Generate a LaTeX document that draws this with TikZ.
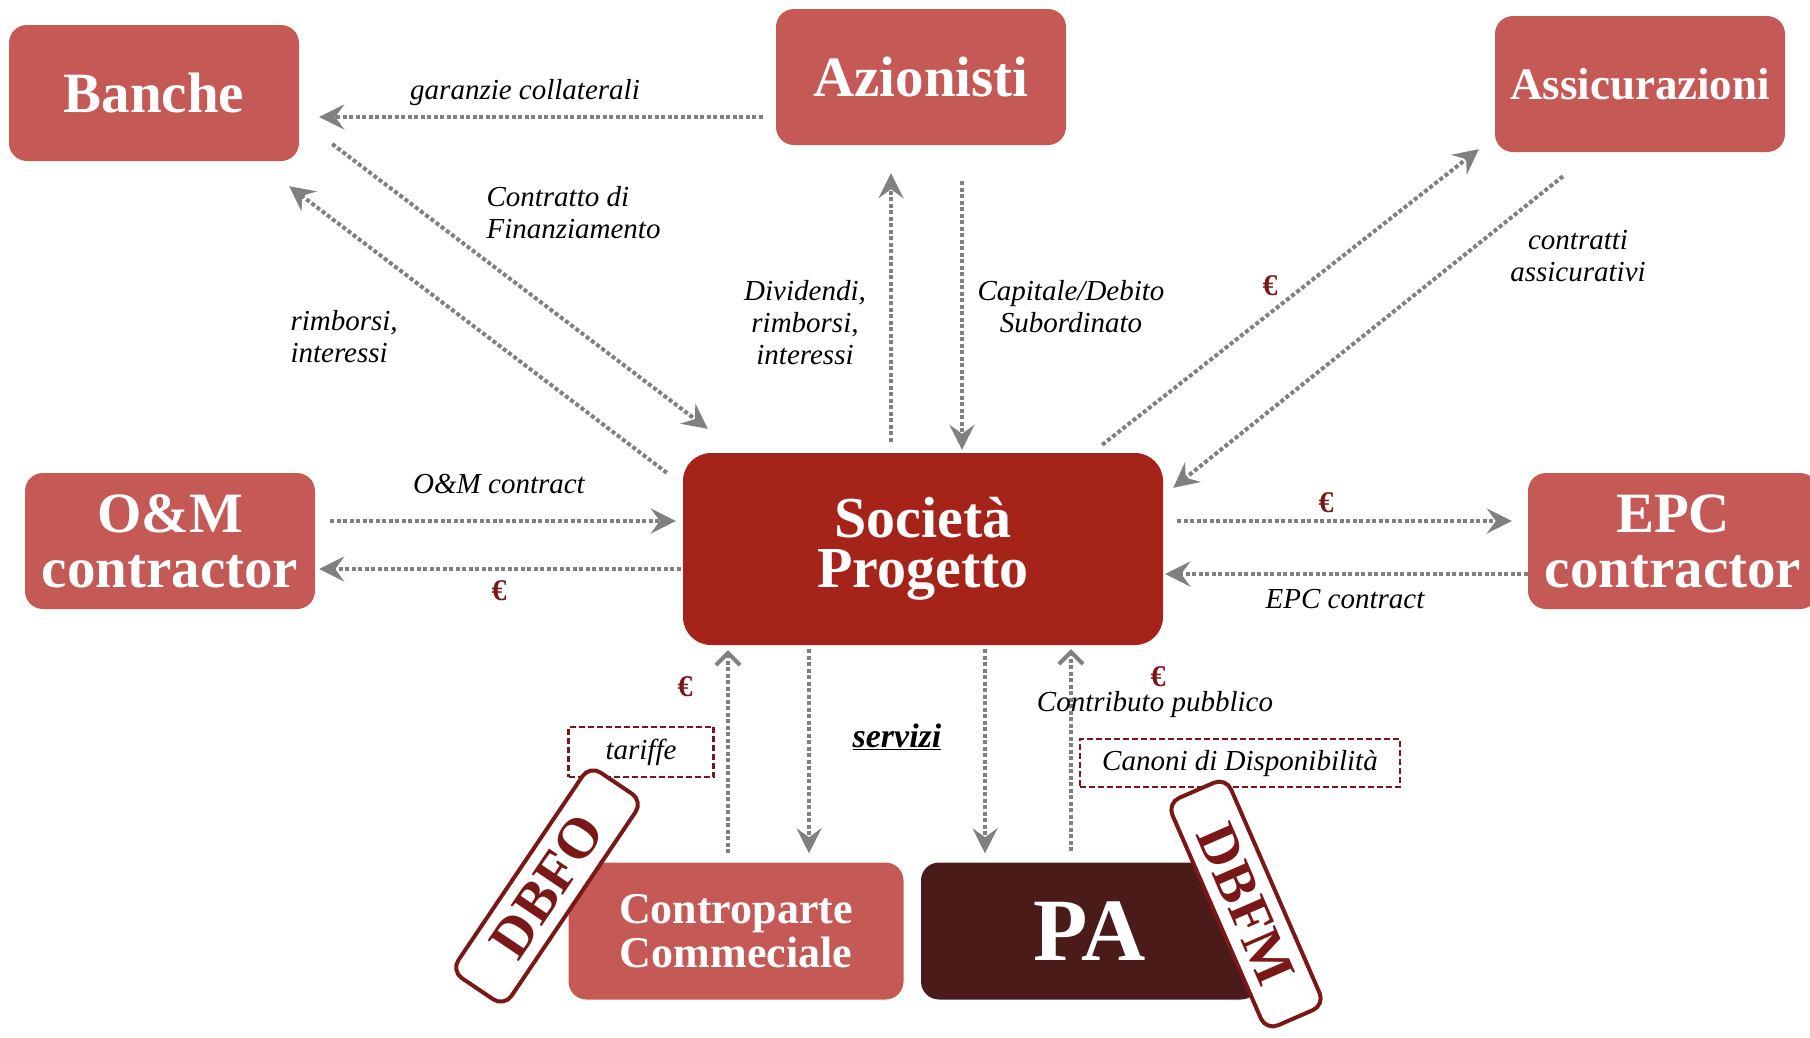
\documentclass[tikz,border=0pt]{standalone}
\usepackage{fontspec}
\setmainfont{Liberation Serif}
\usetikzlibrary{arrows.meta}
\definecolor{boxred}{RGB}{197,89,85}
\definecolor{spvred}{RGB}{166,35,25}
\definecolor{pabrown}{RGB}{74,27,24}
\definecolor{stampred}{RGB}{122,24,24}
\definecolor{flowgray}{RGB}{128,128,128}

\begin{document}
\begin{tikzpicture}[x=1pt,y=-1pt]
\tikzset{party/.style={fill=boxred,rounded corners=18pt,text=white,align=center,inner sep=0pt,
           minimum width=290pt,minimum height=136pt,font=\bfseries\fontsize{57}{55}\selectfont},
         flow/.style={draw=flowgray,line width=4pt,dash pattern=on 4pt off 2.5pt,
           -{Stealth[length=25pt,width=25pt,inset=9pt]}},
         flowup/.style={flow,-{Straight Barb[length=12pt,width=24pt]}},
         lbl/.style={font=\itshape\fontsize{29}{32}\selectfont,align=center},
         euro/.style={text=stampred,font=\bfseries\fontsize{30}{30}\selectfont},
         note/.style={draw=stampred,line width=2.5pt,dash pattern=on 6pt off 3pt,inner sep=0pt,
           font=\itshape\fontsize{29}{32}\selectfont},
         stamp/.style={draw=stampred,line width=4pt,fill=white,rounded corners=13pt,inner sep=0pt,
           minimum width=248pt,minimum height=64pt,text=stampred,font=\bfseries\fontsize{57}{57}\selectfont}}
\useasboundingbox (0,0) rectangle (1810,1037);

% parties
\node[party] (banche) at (154,93) {Banche};
\node[party] (azionisti) at (921,77) {Azionisti};
\node[party,font=\bfseries\fontsize{45}{45}\selectfont] (assic) at (1640,84) {Assicurazioni};
\node[party] (om) at (170,541) {O\&M\\contractor};
\node[party] (epc) at (1673,541) {EPC\\contractor};
\node[party,fill=spvred,rounded corners=28pt,minimum width=480pt,minimum height=192pt,
      font=\bfseries\fontsize{58}{50}\selectfont] (spv) at (923,549) {Società\\Progetto};
\node[party,minimum width=335pt,minimum height=137pt,
      font=\bfseries\fontsize{44}{44}\selectfont] (cliente) at (736,931) {Controparte\\Commeciale};
\node[party,fill=pabrown,minimum width=338pt,minimum height=137pt,
      font=\bfseries\fontsize{89}{89}\selectfont] (pa) at (1090,931) {PA};

% flows
\draw[flow] ([shift={(-13,40)}]azionisti.west) -- ([shift={(20,24)}]banche.east);
\draw[flow] ([shift={(33,51)}]banche.east) -- ([shift={(25,-24)}]spv.north west);
\draw[flow] ([shift={(-16,20)}]spv.north west) -- ([shift={(-10,25)}]banche.south east);
\draw[flow] ([shift={(-32,-11)}]spv.north) -- ([shift={(-30,28)}]azionisti.south);
\draw[flow] ([shift={(41,36)}]azionisti.south) -- ([shift={(39,-3)}]spv.north);
\draw[flow] ([shift={(-61,-8)}]spv.north east) -- ([shift={(-16,-3)}]assic.south west);
\draw[flow] ([shift={(-77,24)}]assic.south) -- ([shift={(10,35)}]spv.north east);
\draw[flow] ([shift={(15,-20)}]om.east) -- ([shift={(-7,-28)}]spv.west);
\draw[flow] ([shift={(-2,20)}]spv.west) -- ([shift={(4,28)}]om.east);
\draw[flow] ([shift={(14,-28)}]spv.east) -- ([shift={(-16,-20)}]epc.west);
\draw[flow] ([shift={(0,33)}]epc.west) -- ([shift={(2,25)}]spv.east);
\draw[flowup] ([shift={(-8,-9)}]cliente.north) -- ([shift={(-195,5)}]spv.south);
\draw[flow] ([shift={(-114,4)}]spv.south) -- ([shift={(73,-9)}]cliente.north);
\draw[flow] ([shift={(62,4)}]spv.south) -- ([shift={(-105,-9)}]pa.north);
\draw[flowup] ([shift={(-19,-11)}]pa.north) -- ([shift={(148,4)}]spv.south);

% labels
\node[lbl] (garanzie) at (525,93) {garanzie collaterali};
\node[lbl,align=left,anchor=west] (contratto) at (483,213) {Contratto di\\Finanziamento};
\node[lbl,align=left,anchor=west] (rimborsi) at (287,337) {rimborsi,\\interessi};
\node[lbl] (dividendi) at (805,323) {Dividendi,\\rimborsi,\\interessi};
\node[lbl] (capitale) at (1071,307) {Capitale/Debito\\Subordinato};
\node[euro] (euroassic) at (1270,286) {€};
\node[lbl] (contratti) at (1578,256) {contratti\\assicurativi};
\node[lbl] (omlbl) at (499,484) {O\&M contract};
\node[euro] (euroom) at (499,591) {€};
\node[euro] (euroepc) at (1326,503) {€};
\node[lbl] (epclbl) at (1345,599) {EPC contract};
\node[euro] (eurotar) at (685,687) {€};
\node[note,minimum width=145pt,minimum height=50pt] (tariffe) at (641,752) {tariffe};
\node[lbl,font=\bfseries\itshape\fontsize{34}{36}\selectfont] (servizi) at (897,737) {\underline{servizi}};
\node[euro] (eurocan) at (1158,677) {€};
\node[lbl] (contributo) at (1155,705) {Contributo pubblico};
\node[note,minimum width=320pt,minimum height=48pt] (canoni) at (1240,763) {Canoni di Disponibilità};

% contract types
\node[stamp,rotate=56] (dbfo) at (547,886) {DBFO};
\node[stamp,rotate=-66.5] (dbfm) at (1246,904) {DBFM};
\end{tikzpicture}
\end{document}
